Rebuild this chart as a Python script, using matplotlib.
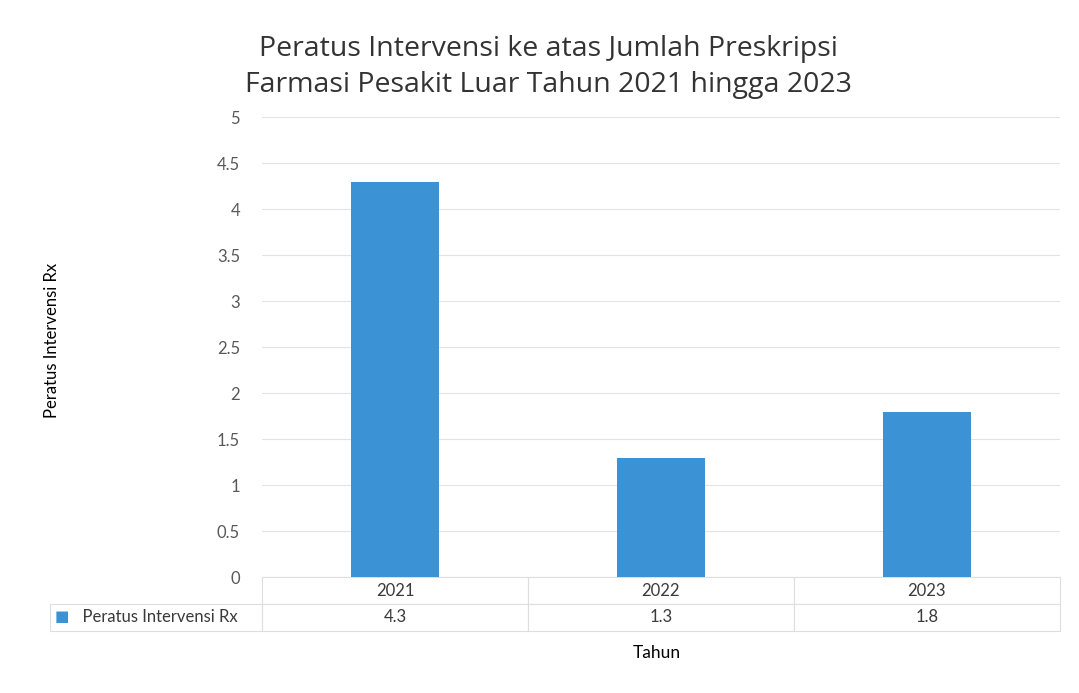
import numpy as np
import matplotlib.pyplot as plt

# Data
years = ['2021', '2022', '2023']
peratus = [4.3, 1.3, 1.8]
series_name = 'Peratus Intervensi Rx'
bar_color = '#3b93d6'

plt.rcParams['font.family'] = ['Lato', 'DejaVu Sans']

fig = plt.figure(figsize=(10.79, 6.93), dpi=100)
ax = fig.add_axes([0.243, 0.167, 0.739, 0.664])

x = np.arange(len(years))
ax.bar(x, peratus, width=0.33, color=bar_color, zorder=3)

ax.set_xlim(-0.5, len(years) - 0.5)
ax.set_ylim(0, 5)
ax.set_yticks(np.arange(0, 5.01, 0.5))
ax.set_yticklabels([f'{v:g}' for v in np.arange(0, 5.01, 0.5)])
ax.tick_params(axis='y', length=0, pad=16, labelsize=12, labelcolor='#595959')
ax.set_xticks([])
ax.grid(axis='y', color='#e3e3e3', linewidth=0.8, zorder=0)
for s in ax.spines.values():
    s.set_visible(False)

ax.set_ylabel('Peratus Intervensi Rx', fontsize=12)
ax.yaxis.set_label_coords(-0.254, 0.515)

# data table below the plot
label_w = 212 / 798
cells = [[''] + years, [series_name] + [f'{v:g}' for v in peratus]]
tbl = ax.table(cellText=cells,
               colWidths=[label_w] + [1 / 3] * 3,
               cellLoc='center',
               bbox=[-label_w, -0.116, 1 + label_w, 0.116])
tbl.auto_set_font_size(False)
for (r, c), cell in tbl.get_celld().items():
    cell.set_edgecolor('#dedede')
    cell.set_linewidth(0.8)
    cell.get_text().set_fontsize(12)
    cell.get_text().set_color('#3a3a3a')
    if r == 0 and c == 0:
        cell.visible_edges = ''
    if c == 0 and r == 1:
        cell.get_text().set_text('  ' + series_name)
        cell._loc = 'left'

# legend key in the table row
fig.text(0.051, 0.1105, '■', color=bar_color, fontsize=11, va='center', ha='left',
         family='DejaVu Sans')

fig.text(0.609, 0.057, 'Tahun', ha='center', va='center', fontsize=12.5)

fig.suptitle('Peratus Intervensi ke atas Jumlah Preskripsi\nFarmasi Pesakit Luar Tahun 2021 hingga 2023',
             x=0.508, y=0.95, fontsize=20.5, color='#333333', family='Open Sans',
             linespacing=1.4)

fig.savefig('out.png', dpi=100, facecolor='white')
